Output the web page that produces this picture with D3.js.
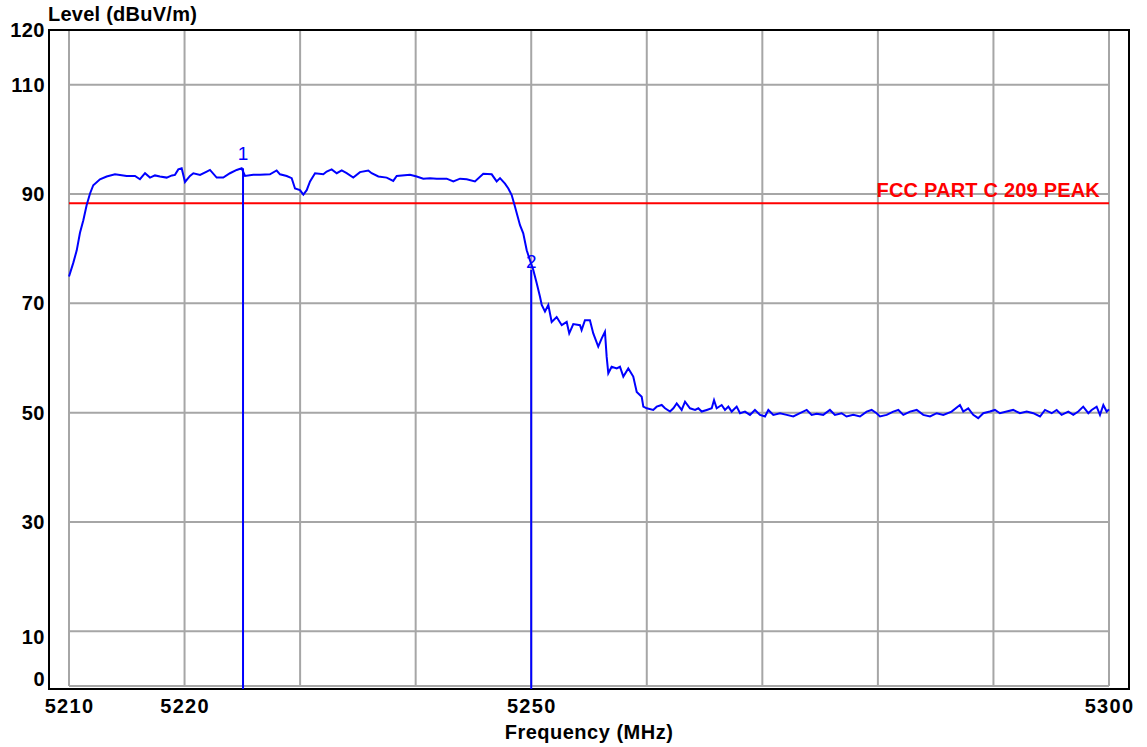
<!DOCTYPE html>
<html><head><meta charset="utf-8">
<script src="https://cdn.jsdelivr.net/npm/d3@7"></script>
<style>body{margin:0;background:#fff;} svg{display:block;}</style>
</head><body><svg id="chart" width="1147" height="747"></svg>
<script>
// ---- data ----
const freqs = [
5210.0,5210.37,5210.67,5210.95,5211.24,5211.53,5211.82,5212.10,5212.68,5213.26,5213.98,5214.99,5215.71,5216.14,5216.58,5217.01,5217.44,5217.87,5218.45,5218.91,5219.17,5219.46,5219.75,5220.04,5220.47,5220.76,5221.34,5221.92,5222.20,5222.78,5223.35,5223.93,5224.51,5224.94,5225.23,5225.95,5226.53,5227.39,5227.97,5228.26,5228.84,5229.27,5229.56,5229.99,5230.28,5230.57,5230.86,5231.29,5232.01,5232.30,5232.73,5233.17,5233.60,5234.03,5234.60,5235.18,5235.90,5236.19,5236.77,5237.49,5238.06,5238.36,5239.51,5240.09,5240.66,5241.24,5241.82,5242.68,5243.26,5243.84,5244.42,5245.13,5245.85,5246.58,5247.01,5247.30,5247.73,5248.02,5248.31,5248.59,5249.03,5249.31,5249.61,5249.89,5250.18,5250.47,5250.76,5250.91,5251.19,5251.48,5251.77,5252.20,5252.64,5253.07,5253.29,5253.64,5254.22,5254.36,5254.65,5255.08,5255.37,5255.80,5256.10,5256.38,5256.53,5256.67,5256.96,5257.40,5257.68,5257.97,5258.40,5258.83,5259.13,5259.56,5259.70,
5260.0,5260.56,5260.86,5261.29,5261.58,5262.01,5262.30,5262.59,5263.02,5263.31,5263.74,5264.18,5264.46,5264.75,5265.19,5265.62,5265.82,5266.05,5266.48,5266.77,5267.06,5267.35,5267.78,5268.07,5268.50,5268.93,5269.36,5269.80,5270.23,5270.52,5270.95,5271.53,5272.11,5272.68,5273.26,5273.84,5274.27,5274.70,5275.27,5275.85,5276.28,5276.86,5277.29,5277.87,5278.45,5279.03,5279.46,5279.89,5280.18,5280.76,5281.33,5281.77,5282.20,5282.78,5283.36,5283.93,5284.51,5285.09,5285.66,5286.38,5287.10,5287.39,5287.82,5288.25,5288.68,5289.12,5289.69,5290.13,5290.56,5291.14,5291.71,5292.29,5292.88,5293.45,5294.03,5294.46,5295.04,5295.47,5295.90,5296.48,5296.91,5297.34,5297.77,5298.21,5298.50,5298.93,5299.22,5299.51,5299.80,5300.0
];
const levels = [
74.9,77.4,79.7,82.9,85.2,88.0,90.1,91.6,92.7,93.2,93.6,93.3,93.3,92.7,93.8,93.0,93.4,93.2,93.0,93.4,93.5,94.5,94.7,92.2,93.3,93.8,93.5,94.1,94.4,93.0,93.0,93.8,94.4,94.7,93.3,93.5,93.5,93.6,94.3,93.6,93.3,92.9,91.0,90.7,89.9,90.7,92.3,93.8,93.6,94.1,94.5,93.8,94.3,93.8,93.0,94.0,94.3,93.8,93.2,93.0,92.4,93.3,93.5,93.2,92.8,92.9,92.8,92.8,92.3,92.8,92.7,92.3,93.7,93.6,92.3,92.9,91.9,91.0,89.8,87.7,84.3,82.8,79.7,77.9,76.1,73.7,71.2,69.7,68.5,69.7,66.6,67.5,66.0,66.6,64.5,66.2,66.0,65.1,66.9,66.9,64.5,62.1,63.6,64.8,60.2,57.2,58.4,58.1,58.4,56.6,58.1,56.6,53.8,52.9,51.1,
50.8,50.5,51.1,51.4,50.8,50.2,50.8,51.7,50.5,52.0,50.8,50.5,50.8,50.2,50.5,50.8,52.3,50.8,51.4,50.5,51.1,50.2,51.1,49.9,50.2,49.6,50.5,49.6,49.3,50.5,49.6,49.9,49.6,49.3,49.9,50.5,49.6,49.8,49.6,50.5,49.6,49.9,49.3,49.6,49.3,50.2,50.5,49.9,49.3,49.6,50.2,50.5,49.6,50.2,50.5,49.6,49.3,49.9,49.6,50.2,51.4,50.2,50.8,49.6,49.0,49.9,50.2,50.5,49.9,50.2,50.5,49.9,50.2,49.9,49.3,50.5,49.9,50.5,49.6,50.2,49.6,50.2,51.1,49.9,50.5,51.1,49.6,51.4,50.2,50.6
];
const xGridValues = [5210,5220,5230,5240,5250,5260,5270,5280,5290,5300];
const xTickLabels = [5210,5220,5250,5300];
const yGridValues = [0,10,30,50,70,90,110];
const yTickLabels = [120,110,90,70,50,30,10,0];
const limitLevel = 88.3;
const limitLabel = "FCC PART C 209 PEAK";
const markerFreqs = [5225.06, 5250.0];
const markerLevels = [94.7, 76.1];
const markerNames = ["1", "2"];
const yTitle = "Level (dBuV/m)";
const xTitle = "Frequency (MHz)";

// ---- drawing ----
const svg = d3.select("#chart");
const FONT = "'Liberation Sans', Arial, sans-serif";
const x = d3.scaleLinear().domain([5210, 5300]).range([69, 1109]);
const y = d3.scaleLinear().domain([0, 120]).range([686, 30]);
const frame = {x0: 49, x1: 1129, y0: 30, y1: 689};

svg.append("rect").attr("width", 1147).attr("height", 747).attr("fill", "#fff");

// grid
const grid = svg.append("g").attr("stroke", "#a6a6a6").attr("stroke-width", 2);
grid.selectAll("line.v").data(xGridValues).join("line").attr("class", "v")
  .attr("x1", d => x(d)).attr("x2", d => x(d)).attr("y1", y(120)).attr("y2", y(0));
grid.selectAll("line.h").data(yGridValues).join("line").attr("class", "h")
  .attr("x1", x(5210)).attr("x2", x(5300)).attr("y1", d => y(d)).attr("y2", d => y(d));

// frame
svg.append("rect").attr("x", frame.x0).attr("y", frame.y0)
  .attr("width", frame.x1 - frame.x0).attr("height", frame.y1 - frame.y0)
  .attr("fill", "none").attr("stroke", "#000").attr("stroke-width", 2);

// limit line
svg.append("line").attr("x1", x(5210)).attr("x2", x(5300))
  .attr("y1", y(limitLevel)).attr("y2", y(limitLevel))
  .attr("stroke", "#ff0000").attr("stroke-width", 2);
svg.append("text").attr("x", 1100).attr("y", y(limitLevel) - 6)
  .attr("text-anchor", "end").attr("fill", "#ff0000")
  .style("font-family", FONT).style("font-weight", "bold").style("font-size", "20px")
  .style("letter-spacing", "0.2px")
  .text(limitLabel);

// trace
const pts = freqs.map((f, i) => [f, levels[i]]);
svg.append("path").datum(pts)
  .attr("fill", "none").attr("stroke", "#0000ff").attr("stroke-width", 2)
  .attr("stroke-linejoin", "miter")
  .attr("d", d3.line().x(d => x(d[0])).y(d => y(d[1])));

// markers
const labelGap = [8, 2];
markerFreqs.forEach((f, i) => {
  svg.append("line").attr("x1", x(f)).attr("x2", x(f))
    .attr("y1", y(markerLevels[i])).attr("y2", frame.y1)
    .attr("stroke", "#0000ff").attr("stroke-width", 2);
  svg.append("text").attr("x", x(f)).attr("y", y(markerLevels[i]) - labelGap[i])
    .attr("text-anchor", "middle").attr("fill", "#0000ff")
    .style("font-family", FONT).style("font-size", "19px")
    .text(markerNames[i]);
});

// axes
const yAxis = svg.append("g").attr("transform", "translate(45,0)")
  .call(d3.axisLeft(y).tickValues(yTickLabels).tickSize(0).tickPadding(0).tickFormat(d3.format("d")));
yAxis.select(".domain").remove();
yAxis.selectAll("text")
  .style("font-family", FONT).style("font-weight", "bold").style("font-size", "20px")
  .style("letter-spacing", "0.5px").attr("fill", "#000")
  .attr("transform", d => d === 10 ? "translate(0,6)" : d === 0 ? "translate(0,-7)" : null);

const xAxis = svg.append("g").attr("transform", `translate(0,${frame.y1})`)
  .call(d3.axisBottom(x).tickValues(xTickLabels).tickSize(0).tickPadding(10).tickFormat(d3.format("d")));
xAxis.select(".domain").remove();
xAxis.selectAll("text")
  .style("font-family", FONT).style("font-weight", "bold").style("font-size", "20px")
  .style("letter-spacing", "1.3px").attr("fill", "#000");

// titles
svg.append("text").attr("x", 48).attr("y", 21)
  .style("font-family", FONT).style("font-weight", "bold").style("font-size", "20px")
  .style("letter-spacing", "0.25px")
  .text(yTitle);
svg.append("text").attr("x", (x(5210) + x(5300)) / 2).attr("y", 739)
  .attr("text-anchor", "middle")
  .style("font-family", FONT).style("font-weight", "bold").style("font-size", "20px")
  .style("letter-spacing", "0.5px")
  .text(xTitle);
</script></body></html>
